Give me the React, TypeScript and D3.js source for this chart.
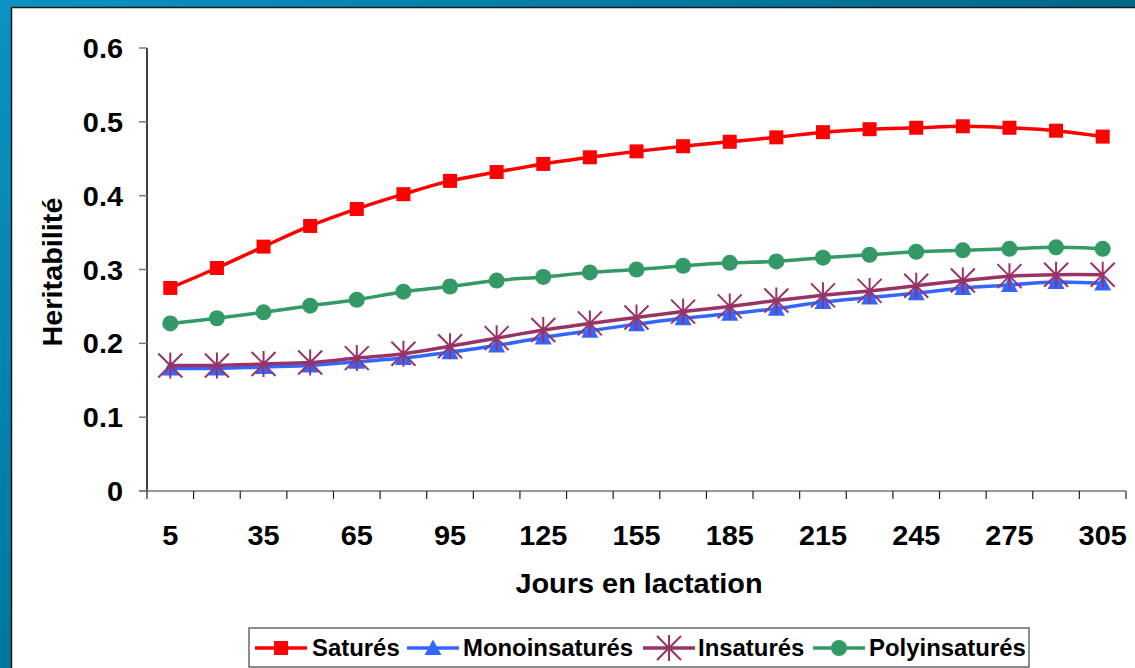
import { useMemo } from 'react';
import * as d3 from 'd3';

const days = [5, 20, 35, 50, 65, 80, 95, 110, 125, 140, 155, 170, 185, 200, 215, 230, 245, 260, 275, 290, 305];
const dayLabels = [5, 35, 65, 95, 125, 155, 185, 215, 245, 275, 305];
const yTicks = [0, 0.1, 0.2, 0.3, 0.4, 0.5, 0.6];

const satures = [0.275, 0.302, 0.331, 0.359, 0.382, 0.402, 0.42, 0.432, 0.443, 0.452, 0.46, 0.467, 0.473, 0.479, 0.486, 0.49, 0.492, 0.494, 0.492, 0.488, 0.48];
const monoinsatures = [0.166, 0.166, 0.168, 0.17, 0.175, 0.18, 0.188, 0.197, 0.208, 0.217, 0.226, 0.234, 0.24, 0.247, 0.256, 0.262, 0.268, 0.275, 0.279, 0.283, 0.281];
const insatures = [0.17, 0.17, 0.172, 0.174, 0.18, 0.186, 0.196, 0.207, 0.218, 0.227, 0.235, 0.243, 0.25, 0.258, 0.265, 0.271, 0.278, 0.285, 0.291, 0.293, 0.293];
const polyinsatures = [0.227, 0.234, 0.242, 0.251, 0.259, 0.27, 0.277, 0.285, 0.29, 0.296, 0.3, 0.305, 0.309, 0.311, 0.316, 0.32, 0.324, 0.326, 0.328, 0.33, 0.328];

type Marker = 'square' | 'triangle' | 'star' | 'circle';

const seriesNames = ['Saturés', 'Monoinsaturés', 'Insaturés', 'Polyinsaturés'];
const seriesValues = [satures, monoinsatures, insatures, polyinsatures];
const seriesColors = ['#ff0000', '#3366ff', '#993366', '#339966'];
const seriesMarkers: Marker[] = ['square', 'triangle', 'star', 'circle'];

const W = 1135;
const H = 668;
const PLOT = { left: 147, right: 1126, top: 48, bottom: 491 };
const FONT = 'Arial, "Liberation Sans", Helvetica, sans-serif';
const STRETCH = 1.07; // the original text is a bit wider than Arial

function MarkerShape({ type, x, y, color }: { type: Marker; x: number; y: number; color: string }) {
  if (type === 'square') {
    return <rect x={x - 7} y={y - 7} width={14} height={14} fill={color} />;
  }
  if (type === 'triangle') {
    return <path d={`M${x},${y - 8.5} L${x + 8.5},${y + 7} L${x - 8.5},${y + 7} Z`} fill={color} />;
  }
  if (type === 'circle') {
    return <circle cx={x} cy={y} r={8} fill={color} />;
  }
  const s = 12;
  return (
    <path
      d={`M${x - s},${y - s} L${x + s},${y + s} M${x + s},${y - s} L${x - s},${y + s} M${x},${y - s - 1} L${x},${y + s + 1}`}
      stroke={color}
      strokeWidth={2}
      fill="none"
    />
  );
}

function Txt({
  x,
  y,
  size,
  anchor = 'start',
  rotate = 0,
  sx = STRETCH,
  children,
}: {
  x: number;
  y: number;
  size: number;
  anchor?: 'start' | 'middle' | 'end';
  rotate?: number;
  sx?: number;
  children: React.ReactNode;
}) {
  return (
    <text
      transform={`translate(${x},${y}) rotate(${rotate}) scale(${sx},1)`}
      textAnchor={anchor}
      fontSize={size}
      fontWeight="bold"
      fill="#000"
    >
      {children}
    </text>
  );
}

export default function App() {
  const xScale = useMemo(
    () => d3.scaleBand<number>().domain(days).range([PLOT.left, PLOT.right]).paddingInner(0).paddingOuter(0),
    []
  );
  const yScale = useMemo(() => d3.scaleLinear().domain([0, 0.6]).range([PLOT.bottom, PLOT.top]), []);
  const cx = (d: number) => (xScale(d) as number) + xScale.bandwidth() / 2;

  const line = d3
    .line<number>()
    .x((_, i) => cx(days[i]))
    .y((v) => yScale(v))
    .curve(d3.curveCatmullRom.alpha(0.5));

  const boundaries = d3.range(days.length + 1).map((i) => PLOT.left + i * xScale.bandwidth());

  // legend layout
  const legendX = 249;
  const legendY = 628;
  const legendItems = [
    { x: 255, tx: 312 },
    { x: 407, tx: 463 },
    { x: 643, tx: 698 },
    { x: 813, tx: 869 },
  ];

  return (
    <svg width={W} height={H} style={{ position: 'absolute', left: 0, top: 0 }} fontFamily={FONT}>
      <defs>
        <linearGradient id="frame" x1="0" y1="0" x2="1" y2="0">
          <stop offset="0%" stopColor="#0a93c4" />
          <stop offset="100%" stopColor="#006788" />
        </linearGradient>
        <linearGradient id="frameLeft" x1="0" y1="0" x2="0" y2="1">
          <stop offset="0%" stopColor="#0a93c4" />
          <stop offset="100%" stopColor="#00779c" />
        </linearGradient>
      </defs>
      <rect x={0} y={0} width={W} height={H} fill="url(#frame)" />
      <rect x={0} y={0} width={12} height={H} fill="url(#frameLeft)" />
      <rect x={12} y={8} width={W - 12} height={H - 8} fill="#ffffff" />
      <line x1={11.5} y1={7.5} x2={11.5} y2={H} stroke="#1a1a1a" strokeWidth={1.5} />
      <line x1={11.5} y1={7.5} x2={W} y2={7.5} stroke="#1a1a1a" strokeWidth={1.5} />

      {/* y axis */}
      <line x1={PLOT.left} y1={PLOT.top} x2={PLOT.left} y2={PLOT.bottom} stroke="#000" strokeWidth={1.5} />
      {yTicks.map((t) => (
        <g key={t}>
          <line x1={PLOT.left - 8} y1={yScale(t)} x2={PLOT.left} y2={yScale(t)} stroke="#777" strokeWidth={1.5} />
          <Txt x={123} y={yScale(t) + 10} size={27} anchor="end">
            {t === 0 ? '0' : t.toFixed(1)}
          </Txt>
        </g>
      ))}

      {/* x axis */}
      <line x1={PLOT.left - 8} y1={PLOT.bottom} x2={PLOT.right} y2={PLOT.bottom} stroke="#777" strokeWidth={1.5} />
      {boundaries.map((b, i) => (
        <line key={i} x1={b} y1={PLOT.bottom} x2={b} y2={PLOT.bottom + 8} stroke="#222" strokeWidth={1.2} />
      ))}
      {dayLabels.map((d) => (
        <Txt key={d} x={cx(d)} y={545} size={27} anchor="middle">
          {d}
        </Txt>
      ))}

      <Txt x={639} y={593} size={27} anchor="middle">
        Jours en lactation
      </Txt>
      <Txt x={62} y={272} size={28} anchor="middle" rotate={-90} sx={1.03}>
        Heritabilité
      </Txt>

      {/* series */}
      {seriesValues.map((vals, si) => (
        <g key={seriesNames[si]}>
          <path d={line(vals) ?? ''} fill="none" stroke={seriesColors[si]} strokeWidth={3.5} />
          {vals.map((v, i) => (
            <MarkerShape key={i} type={seriesMarkers[si]} x={cx(days[i])} y={yScale(v)} color={seriesColors[si]} />
          ))}
        </g>
      ))}

      {/* legend */}
      <rect x={legendX} y={legendY} width={780} height={39} fill="#fff" stroke="#666" strokeWidth={1.5} />
      {seriesNames.map((name, si) => {
        const it = legendItems[si];
        const my = legendY + 20;
        return (
          <g key={name}>
            <line x1={it.x} y1={my} x2={it.x + 52} y2={my} stroke={seriesColors[si]} strokeWidth={3.5} />
            <MarkerShape type={seriesMarkers[si]} x={it.x + 26} y={my} color={seriesColors[si]} />
            <Txt x={it.tx} y={my + 8} size={23} sx={1.04}>
              {name}
            </Txt>
          </g>
        );
      })}
    </svg>
  );
}
